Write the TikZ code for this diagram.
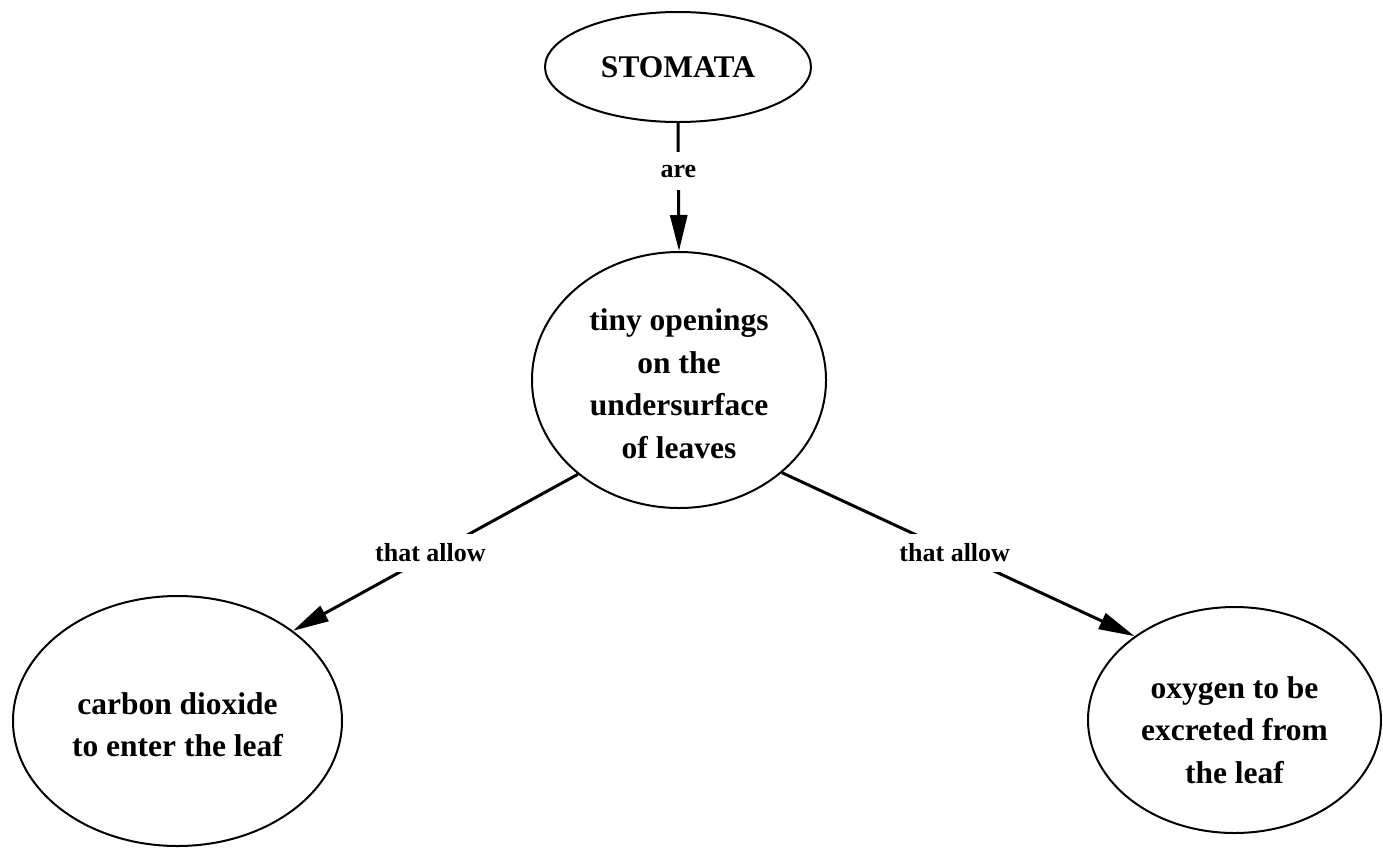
\documentclass[tikz,border=0pt]{standalone}
\usepackage{fontspec}
\setmainfont{Liberation Serif}
\usetikzlibrary{shapes.geometric,arrows.meta}
% centred lines of a concept, moved down by #1 without changing the box size
\newcommand{\conceptlines}[2]{\raisebox{-#1}[\height][\depth]{\begin{tabular}{@{}c@{}}#2\end{tabular}}}
\begin{document}
\begin{tikzpicture}[x=1pt,y=-1pt,
  concept/.style={ellipse,draw=black,line width=2pt,inner sep=0pt,
    font=\bfseries\fontsize{31.5}{42.5}\selectfont},
  link/.style={line width=3pt,-{Triangle[length=36pt,width=17pt]}},
  linklabel/.style={fill=white,inner xsep=3pt,inner ysep=0pt,minimum height=38pt,
    font=\bfseries\fontsize{26}{30}\selectfont}]
  \useasboundingbox (0,0) rectangle (1383,847);

  \node[concept,minimum width=266pt,minimum height=110pt] (stom) at (678,67) {STOMATA};
  \node[concept,minimum width=294pt,minimum height=256pt] (tiny) at (679,380)
    {\conceptlines{6pt}{tiny openings\\on the\\undersurface\\of leaves}};
  \node[concept,minimum width=329pt,minimum height=250pt] (co2) at (177.5,721)
    {\conceptlines{6pt}{carbon dioxide\\to enter the leaf}};
  \node[concept,minimum width=293pt,minimum height=226pt] (oxy) at (1234.5,720)
    {\conceptlines{12pt}{oxygen to be\\excreted from\\the leaf}};

  \draw[link] (stom.south) -- node[linklabel,pos=0.377] {are} (tiny.north);
  \draw[link] (tiny.223.8) -- node[linklabel,pos=0.5,xshift=-5pt] {that allow} (co2.38.9);
  \draw[link] (tiny.318.7) -- node[linklabel,pos=0.49] {that allow} (oxy.140.6);
\end{tikzpicture}
\end{document}
